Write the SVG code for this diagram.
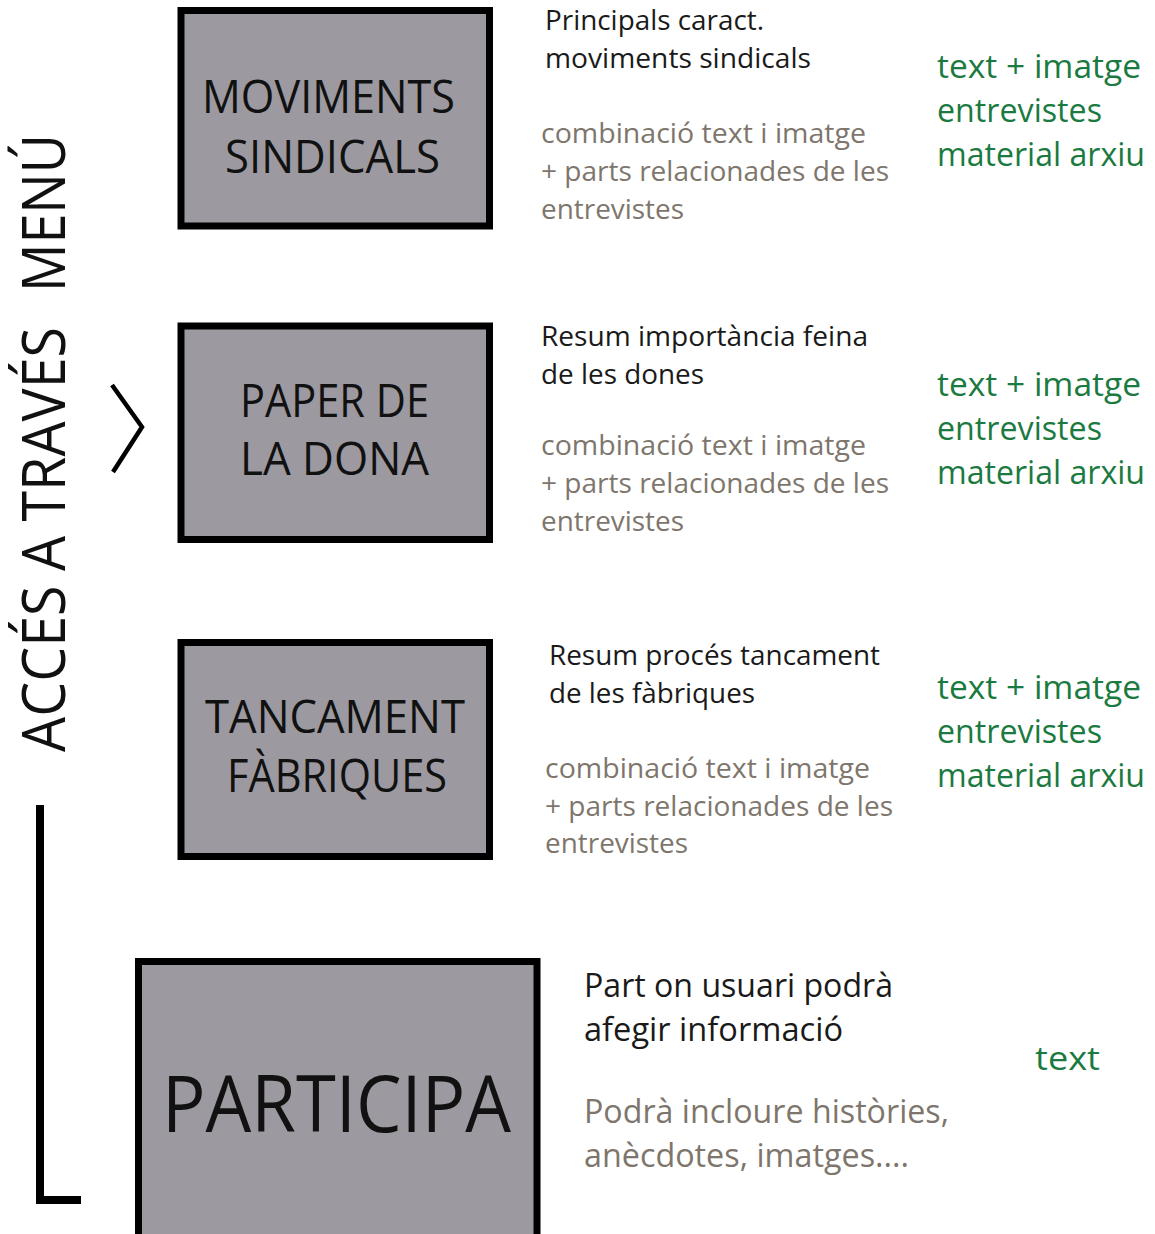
<svg xmlns="http://www.w3.org/2000/svg" width="1155" height="1234" viewBox="0 0 1155 1234">
<style>
.box{fill:#9c9aa0;stroke:#000;stroke-width:7}
.t{font-family:"Open Sans","Liberation Sans",sans-serif}
.title{font-size:45px;fill:#111}
.big{font-size:78px;fill:#111}
.blk{font-size:28px;fill:#1a1a1a}
.gry{font-size:28px;fill:#7e766c}
.grn{font-size:32px;fill:#1b7a3f}
.blk4{font-size:32px;fill:#1a1a1a}
.gry4{font-size:32px;fill:#7e766c}
.side{font-size:60px;fill:#111}
.ln{fill:none;stroke:#000;stroke-linecap:butt}
</style>
<rect width="1155" height="1234" fill="#fff"/>
<g id="side-label">
<text class="t side" transform="translate(65,752) rotate(-90)" textLength="425" lengthAdjust="spacingAndGlyphs">ACCÉS A TRAVÉS</text>
<text class="t side" transform="translate(65,292) rotate(-90)" textLength="158" lengthAdjust="spacingAndGlyphs">MENÚ</text>
</g>
<g id="connectors">
<polyline class="ln" points="112,385 142,427 113,472" stroke-width="4.5" stroke-linecap="round" stroke-linejoin="miter"/>
<polyline class="ln" points="40,805 40,1200 81,1200" stroke-width="8" stroke-linejoin="miter"/>
</g>
<g id="node-moviments">
<rect class="box" x="181" y="10.5" width="308.5" height="215.5"/>
<text class="t title" x="202" y="113" textLength="253" lengthAdjust="spacingAndGlyphs">MOVIMENTS</text>
<text class="t title" x="225" y="173" textLength="215" lengthAdjust="spacingAndGlyphs">SINDICALS</text>
</g>
<g id="node-paper">
<rect class="box" x="181" y="326" width="308.5" height="213.5"/>
<text class="t title" x="240" y="417" textLength="189" lengthAdjust="spacingAndGlyphs">PAPER DE</text>
<text class="t title" x="240" y="475" textLength="189" lengthAdjust="spacingAndGlyphs">LA DONA</text>
</g>
<g id="node-tancament">
<rect class="box" x="181" y="642.5" width="308.5" height="214"/>
<text class="t title" x="205" y="733" textLength="260" lengthAdjust="spacingAndGlyphs">TANCAMENT</text>
<text class="t title" x="227" y="792" textLength="220" lengthAdjust="spacingAndGlyphs">FÀBRIQUES</text>
</g>
<g id="node-participa">
<rect class="box" x="138.5" y="961.5" width="398.5" height="290"/>
<text class="t big" x="162" y="1132" textLength="349" lengthAdjust="spacingAndGlyphs">PARTICIPA</text>
</g>
<g id="desc-1">
<text class="t blk" x="545" y="30" textLength="219" lengthAdjust="spacingAndGlyphs">Principals caract.</text>
<text class="t blk" x="545" y="68" textLength="266" lengthAdjust="spacingAndGlyphs">moviments sindicals</text>
<text class="t gry" x="541" y="143" textLength="325" lengthAdjust="spacingAndGlyphs">combinació text i imatge</text>
<text class="t gry" x="541" y="181" textLength="348" lengthAdjust="spacingAndGlyphs">+ parts relacionades de les</text>
<text class="t gry" x="541" y="219" textLength="143" lengthAdjust="spacingAndGlyphs">entrevistes</text>
<text class="t grn" x="937" y="78" textLength="204" lengthAdjust="spacingAndGlyphs">text + imatge</text>
<text class="t grn" x="937" y="122" textLength="165" lengthAdjust="spacingAndGlyphs">entrevistes</text>
<text class="t grn" x="937" y="166" textLength="208" lengthAdjust="spacingAndGlyphs">material arxiu</text>
</g>
<g id="desc-2">
<text class="t blk" x="541" y="346" textLength="327" lengthAdjust="spacingAndGlyphs">Resum importància feina</text>
<text class="t blk" x="541" y="384" textLength="163" lengthAdjust="spacingAndGlyphs">de les dones</text>
<text class="t gry" x="541" y="455" textLength="325" lengthAdjust="spacingAndGlyphs">combinació text i imatge</text>
<text class="t gry" x="541" y="493" textLength="348" lengthAdjust="spacingAndGlyphs">+ parts relacionades de les</text>
<text class="t gry" x="541" y="531" textLength="143" lengthAdjust="spacingAndGlyphs">entrevistes</text>
<text class="t grn" x="937" y="396" textLength="204" lengthAdjust="spacingAndGlyphs">text + imatge</text>
<text class="t grn" x="937" y="440" textLength="165" lengthAdjust="spacingAndGlyphs">entrevistes</text>
<text class="t grn" x="937" y="484" textLength="208" lengthAdjust="spacingAndGlyphs">material arxiu</text>
</g>
<g id="desc-3">
<text class="t blk" x="549" y="665" textLength="331" lengthAdjust="spacingAndGlyphs">Resum procés tancament</text>
<text class="t blk" x="549" y="703" textLength="206" lengthAdjust="spacingAndGlyphs">de les fàbriques</text>
<text class="t gry" x="545" y="778" textLength="325" lengthAdjust="spacingAndGlyphs">combinació text i imatge</text>
<text class="t gry" x="545" y="816" textLength="348" lengthAdjust="spacingAndGlyphs">+ parts relacionades de les</text>
<text class="t gry" x="545" y="853" textLength="143" lengthAdjust="spacingAndGlyphs">entrevistes</text>
<text class="t grn" x="937" y="699" textLength="204" lengthAdjust="spacingAndGlyphs">text + imatge</text>
<text class="t grn" x="937" y="743" textLength="165" lengthAdjust="spacingAndGlyphs">entrevistes</text>
<text class="t grn" x="937" y="787" textLength="208" lengthAdjust="spacingAndGlyphs">material arxiu</text>
</g>
<g id="desc-4">
<text class="t blk4" x="584" y="997" textLength="309" lengthAdjust="spacingAndGlyphs">Part on usuari podrà</text>
<text class="t blk4" x="584" y="1041" textLength="259" lengthAdjust="spacingAndGlyphs">afegir informació</text>
<text class="t gry4" x="584" y="1123" textLength="365" lengthAdjust="spacingAndGlyphs">Podrà incloure històries,</text>
<text class="t gry4" x="584" y="1167" textLength="325" lengthAdjust="spacingAndGlyphs">anècdotes, imatges....</text>
<text class="t grn" x="1035" y="1070" textLength="65" lengthAdjust="spacingAndGlyphs">text</text>
</g>
</svg>
